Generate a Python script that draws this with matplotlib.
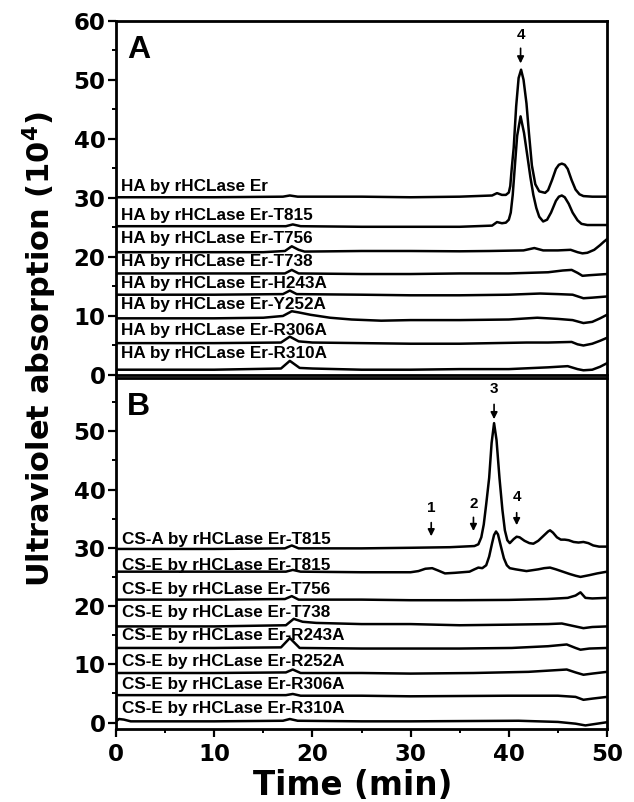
import matplotlib
matplotlib.use("Agg")
import matplotlib.pyplot as plt
from matplotlib.ticker import MultipleLocator

plt.rcParams['font.family'] = ['Liberation Sans', 'DejaVu Sans']
plt.rcParams['font.weight'] = 'bold'
plt.rcParams['mathtext.fontset'] = 'custom'
plt.rcParams['mathtext.rm'] = 'DejaVu Sans:bold'
plt.rcParams['mathtext.bf'] = 'DejaVu Sans:bold'

# ---- Panel A: HA digests ----
ha_labels = ["HA by rHCLase Er", "HA by rHCLase Er-T815", "HA by rHCLase Er-T756",
             "HA by rHCLase Er-T738", "HA by rHCLase Er-H243A", "HA by rHCLase Er-Y252A",
             "HA by rHCLase Er-R306A", "HA by rHCLase Er-R310A"]

ha_er_t = [0, 10, 17.0, 17.7, 18.5, 25, 30, 35, 38.3, 38.8, 39.3, 39.7, 40.0, 40.15, 40.3, 40.5,
           40.75, 41.0, 41.25, 41.5, 41.8, 42.05, 42.35, 42.7, 43.1, 43.7, 44.0, 44.4, 44.8, 45.1,
           45.4, 45.7, 46.0, 46.4, 46.8, 47.2, 47.6, 48.5, 50]
ha_er_y = [30.1, 30.1, 30.2, 30.4, 30.2, 30.2, 30.1, 30.2, 30.4, 30.8, 30.5, 30.5, 30.9, 32.0, 35.0, 38.5,
           45.5, 50.3, 51.7, 50.0, 46.0, 41.0, 35.5, 32.3, 31.1, 30.85, 31.3, 33.0, 34.9, 35.6,
           35.8, 35.6, 34.9, 33.0, 31.4, 30.6, 30.3, 30.2, 30.2]

ha_t815_t = [0, 10, 17.3, 18.0, 18.8, 25, 30, 35, 38.3, 38.8, 39.3, 39.7, 40.0, 40.2, 40.4, 40.6,
             40.85, 41.2, 41.55, 41.9, 42.2, 42.5, 42.8, 43.1, 43.5, 43.9, 44.3, 44.8, 45.1, 45.4,
             45.7, 46.1, 46.5, 47.0, 47.4, 48.0, 50]
ha_t815_y = [25.2, 25.2, 25.2, 25.5, 25.2, 25.1, 25.1, 25.1, 25.3, 25.9, 25.7, 25.8, 26.3, 27.5, 30.5, 35.0,
             40.5, 43.8, 41.0, 37.0, 33.5, 30.5, 28.3, 26.8, 26.0, 26.3, 27.5, 29.5, 30.2, 30.4,
             30.1, 29.0, 27.5, 26.2, 25.6, 25.4, 25.4]

ha_t756_t = [0, 10, 15, 17.2, 17.9, 18.6, 19.2, 25, 30, 35, 38, 41.5, 42.6, 43.5, 45.0, 46.3,
             47.0, 47.5, 48.0, 48.7, 49.3, 49.7, 50]
ha_t756_y = [20.8, 20.8, 20.8, 21.0, 21.8, 21.2, 20.9, 21.0, 21.0, 20.95, 21.0, 21.1, 21.5, 21.1, 21.1, 21.2,
             20.8, 20.6, 20.7, 21.2, 22.0, 22.6, 23.0]

ha_t738_t = [0, 10, 17.2, 17.9, 18.6, 25, 30, 35, 40, 44, 45.5, 46.4, 47.0, 47.5, 48.2, 50]
ha_t738_y = [17.2, 17.2, 17.2, 17.8, 17.2, 17.1, 17.1, 17.2, 17.2, 17.4, 17.7, 17.8, 17.3, 16.8, 16.9, 17.1]

ha_h243a_t = [0, 10, 17.0, 17.7, 18.4, 25, 30, 35, 40, 43.2, 45, 46.5, 47.6, 48.5, 50]
ha_h243a_y = [13.6, 13.6, 13.7, 14.3, 13.7, 13.6, 13.5, 13.5, 13.6, 13.8, 13.7, 13.6, 13.0, 13.1, 13.3]

ha_y252a_t = [0, 10, 15, 17.0, 17.9, 18.6, 19.8, 21.8, 24, 27, 30, 35, 40, 42.9, 45, 46.5,
              47.6, 48.5, 49.3, 50]
ha_y252a_y = [9.6, 9.6, 9.7, 10.0, 10.8, 10.6, 10.2, 9.7, 9.4, 9.2, 9.3, 9.3, 9.4, 9.7, 9.5, 9.3,
              8.8, 9.0, 9.6, 10.2]

ha_r306a_t = [0, 10, 16.8, 17.7, 18.6, 20, 25, 30, 35, 41.8, 44, 46.4, 47.0, 47.6, 48.5, 49.3, 50]
ha_r306a_y = [5.4, 5.4, 5.5, 6.5, 5.7, 5.5, 5.4, 5.3, 5.3, 5.5, 5.5, 5.6, 5.2, 5.0, 5.3, 5.8, 6.3]

ha_r310a_t = [0, 10, 16.8, 17.7, 18.7, 20, 25, 30, 35, 40, 44, 46.0, 47.0, 47.6, 48.5, 49.3, 50]
ha_r310a_y = [0.9, 0.9, 1.1, 2.4, 1.2, 1.1, 0.9, 0.9, 1.0, 1.0, 1.3, 1.5, 1.0, 0.8, 0.9, 1.4, 2.0]

# ---- Panel B: CS-A / CS-E digests ----
cs_labels = ["CS-A by rHCLase Er-T815", "CS-E by rHCLase Er-T815", "CS-E by rHCLase Er-T756",
             "CS-E by rHCLase Er-T738", "CS-E by rHCLase Er-R243A", "CS-E by rHCLase Er-R252A",
             "CS-E by rHCLase Er-R306A", "CS-E by rHCLase Er-R310A"]

csa_t815_t = [0, 10, 17.2, 17.9, 18.6, 25, 30, 34, 36.5, 36.9, 37.2, 37.45, 37.7, 38.0, 38.25, 38.5,
              38.75, 39.05, 39.35, 39.6, 39.85, 40.1, 40.5, 40.8, 41.1, 41.6, 42.1, 42.5, 43.0, 43.5,
              44.0, 44.2, 44.5, 44.9, 45.3, 45.7, 46.1, 46.6, 47.1, 47.6, 48.1, 48.6, 49.2, 50]
csa_t815_y = [29.8, 29.8, 29.9, 30.4, 29.9, 29.9, 30.0, 30.1, 30.3, 30.6, 31.8, 34.0, 37.5, 42.0, 48.0, 51.4,
              48.5, 42.0, 36.5, 33.0, 31.3, 30.8, 31.5, 31.9, 31.8, 31.2, 30.8, 30.7, 31.2, 32.0,
              32.8, 33.0, 32.6, 31.8, 31.4, 31.4, 31.3, 31.0, 30.9, 31.0, 30.8, 30.4, 30.2, 30.2]

cse_t815_t = [0, 10, 17.3, 18.0, 18.8, 25, 28, 30.0, 30.8, 31.5, 32.2, 32.8, 33.5, 34.5, 36.0, 36.5,
              36.9, 37.3, 37.7, 38.0, 38.3, 38.5, 38.7, 38.9, 39.2, 39.5, 39.8, 40.1, 40.7, 41.8,
              43.0, 43.6, 44.2, 44.8, 45.5, 46.2, 46.8, 47.3, 48.2, 49.0, 50]
cse_t815_y = [25.9, 25.9, 25.9, 26.2, 25.9, 25.8, 25.8, 25.8, 26.0, 26.4, 26.5, 26.1, 25.6, 25.7, 25.9, 26.3,
              26.6, 26.5, 27.0, 28.5, 30.8, 32.2, 32.8, 32.3, 30.2, 28.2, 27.0, 26.5, 26.3, 26.0,
              26.3, 26.5, 26.6, 26.3, 25.9, 25.5, 25.2, 25.0, 25.3, 25.6, 25.9]

cse_t756_t = [0, 10, 17.2, 17.9, 18.6, 25, 30, 35, 40, 43.9, 46.0, 46.8, 47.3, 47.8, 48.5, 50]
cse_t756_y = [21.1, 21.1, 21.2, 21.7, 21.1, 21.1, 21.0, 21.0, 21.05, 21.2, 21.4, 21.8, 22.35, 21.4, 21.3, 21.4]

cse_t738_t = [0, 10, 17.3, 18.1, 19.0, 20.4, 25, 30, 35, 40, 44, 45.4, 46.5, 47.6, 48.5, 50]
cse_t738_y = [16.5, 16.5, 16.7, 17.8, 17.3, 17.1, 16.9, 16.9, 16.7, 16.8, 16.9, 17.0, 16.6, 16.2, 16.4, 16.5]

cse_r243a_t = [0, 10, 16.8, 17.7, 18.7, 25, 30, 35, 40.3, 44, 45.9, 46.8, 47.3, 48.2, 50]
cse_r243a_y = [12.8, 12.8, 12.9, 14.5, 12.8, 12.7, 12.7, 12.7, 12.8, 13.1, 13.4, 12.8, 12.5, 12.7, 12.8]

cse_r252a_t = [0, 10, 17.3, 18.0, 18.8, 25, 30, 36.4, 42, 45.9, 46.8, 47.6, 48.5, 50]
cse_r252a_y = [8.5, 8.5, 8.6, 9.1, 8.5, 8.5, 8.4, 8.5, 8.7, 9.1, 8.6, 8.2, 8.4, 8.7]

cse_r306a_t = [0, 10, 17.3, 18.0, 18.8, 25, 30, 40, 45, 46.8, 47.6, 48.5, 50]
cse_r306a_y = [4.7, 4.7, 4.7, 4.9, 4.6, 4.6, 4.5, 4.6, 4.6, 4.4, 3.9, 4.1, 4.4]

cse_r310a_t = [0, 0.3, 0.8, 1.5, 10, 17.0, 17.7, 18.5, 25, 30, 41, 45, 46.8, 47.8, 49, 50]
cse_r310a_y = [0.2, 0.6, 0.5, 0.2, 0.2, 0.3, 0.6, 0.3, 0.2, 0.2, 0.3, 0.1, -0.2, -0.5, -0.2, 0.05]

ha_traces = [(ha_er_t, ha_er_y), (ha_t815_t, ha_t815_y), (ha_t756_t, ha_t756_y),
             (ha_t738_t, ha_t738_y), (ha_h243a_t, ha_h243a_y), (ha_y252a_t, ha_y252a_y),
             (ha_r306a_t, ha_r306a_y), (ha_r310a_t, ha_r310a_y)]
cs_traces = [(csa_t815_t, csa_t815_y), (cse_t815_t, cse_t815_y), (cse_t756_t, cse_t756_y),
             (cse_t738_t, cse_t738_y), (cse_r243a_t, cse_r243a_y), (cse_r252a_t, cse_r252a_y),
             (cse_r306a_t, cse_r306a_y), (cse_r310a_t, cse_r310a_y)]

# label text positions (baseline heights)
ha_label_y = [31.2, 26.2, 22.4, 18.4, 14.7, 11.1, 6.8, 2.9]
cs_label_y = [30.7, 26.2, 22.0, 18.1, 14.2, 9.7, 5.7, 1.7]

# peak markers: (label, time, arrow head, arrow tail, text y)
ha_marks = [("4", 41.2, 52.3, 55.8, 57.6)]
cs_marks = [("1", 32.1, 31.5, 34.8, 36.8), ("2", 36.4, 32.4, 35.7, 37.6),
            ("3", 38.5, 51.6, 55.1, 57.2), ("4", 40.8, 33.4, 36.5, 38.7)]

fig = plt.figure(figsize=(6.34, 8.02), dpi=100)
axA = fig.add_axes([0.183, 0.5324, 0.7744, 0.4418])
axB = fig.add_axes([0.183, 0.0904, 0.7744, 0.4379])


def panel(ax, traces, labels, label_y, marks, letter, ylim, yticks, lx):
    for (t, y), lab, ly in zip(traces, labels, label_y):
        ax.plot(t, y, color='black', lw=1.8, solid_joinstyle='round')
        ax.text(lx, ly, lab, fontsize=12.3, fontweight='bold', va='baseline', ha='left')
    for txt, x, head, tail, ty in marks:
        ax.annotate('', xy=(x, head), xytext=(x, tail),
                    arrowprops=dict(arrowstyle='-|>', color='black', lw=1.2, mutation_scale=10))
        ax.text(x, ty, txt, fontsize=11, fontweight='bold', ha='center', va='center')
    ax.text(1.1, ylim[1] - 4.9, letter, fontsize=23, fontweight='bold', va='center', ha='left')
    ax.set_xlim(0, 50)
    ax.set_ylim(*ylim)
    ax.set_yticks(yticks)
    ax.xaxis.set_major_locator(MultipleLocator(10))
    ax.xaxis.set_minor_locator(MultipleLocator(5))
    ax.yaxis.set_minor_locator(MultipleLocator(5))
    ax.tick_params(which='major', direction='out', length=5.5, width=1.6, labelsize=16.5, pad=2,
                   labelfontfamily='DejaVu Sans')
    ax.tick_params(which='minor', direction='out', length=3, width=1.4)
    ax.tick_params(axis='x', pad=4)
    for s in ax.spines.values():
        s.set_linewidth(2)
    for lab in ax.get_xticklabels() + ax.get_yticklabels():
        lab.set_fontweight('bold')


panel(axA, ha_traces, ha_labels, ha_label_y, ha_marks, "A", (0, 60), [0, 10, 20, 30, 40, 50, 60], 0.55)
panel(axB, cs_traces, cs_labels, cs_label_y, cs_marks, "B", (-1.2, 59.1), [0, 10, 20, 30, 40, 50], 0.65)
axA.tick_params(axis='x', which='both', bottom=False, labelbottom=False)

fig.text(0.062, 0.565, r"Ultraviolet absorption (10$^4$)", rotation=90, fontsize=22,
         fontweight='bold', family='DejaVu Sans', ha='center', va='center')
fig.text(0.556, 0.021, "Time (min)", fontsize=23.5, fontweight='bold', family='DejaVu Sans',
         ha='center', va='center')

fig.savefig("out.png", dpi=100)
